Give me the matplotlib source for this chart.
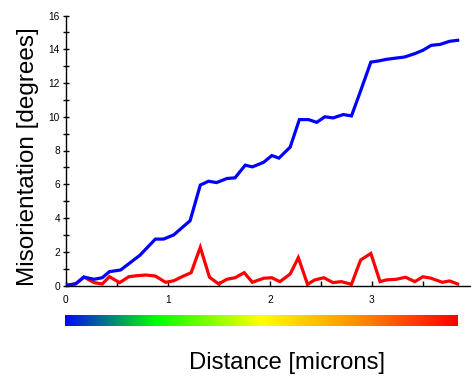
import numpy as np
import matplotlib
matplotlib.use("Agg")
import matplotlib.pyplot as plt
from matplotlib.colors import LinearSegmentedColormap
from matplotlib.ticker import MultipleLocator

plt.rcParams['font.family'] = ['Liberation Sans', 'DejaVu Sans']

# Data (distance in microns, misorientation in degrees)
blue_x = [0.00, 0.10, 0.18, 0.28, 0.36, 0.43, 0.54, 0.73, 0.88, 0.96, 1.06, 1.22,
          1.32, 1.40, 1.48, 1.58, 1.66, 1.76, 1.83, 1.94, 2.02, 2.09, 2.20, 2.29,
          2.38, 2.46, 2.54, 2.62, 2.72, 2.80, 2.88, 2.99, 3.06, 3.14, 3.24, 3.32,
          3.42, 3.50, 3.58, 3.67, 3.76, 3.84]
blue_y = [0.00, 0.10, 0.50, 0.37, 0.46, 0.82, 0.92, 1.80, 2.75, 2.75, 3.00, 3.84,
          5.95, 6.18, 6.10, 6.34, 6.38, 7.13, 7.03, 7.30, 7.70, 7.55, 8.20, 9.83,
          9.83, 9.67, 10.00, 9.93, 10.13, 10.05, 11.37, 13.24, 13.30, 13.40, 13.48, 13.54,
          13.74, 13.94, 14.23, 14.29, 14.47, 14.53]

red_x = [0.00, 0.10, 0.18, 0.28, 0.36, 0.43, 0.53, 0.62, 0.70, 0.79, 0.88, 0.98,
         1.06, 1.14, 1.23, 1.32, 1.41, 1.50, 1.58, 1.66, 1.75, 1.83, 1.94, 2.02,
         2.10, 2.20, 2.28, 2.37, 2.44, 2.53, 2.62, 2.70, 2.80, 2.89, 2.99, 3.08,
         3.14, 3.24, 3.33, 3.42, 3.50, 3.58, 3.69, 3.76, 3.84]
red_y = [0.00, 0.10, 0.50, 0.17, 0.09, 0.52, 0.17, 0.52, 0.58, 0.62, 0.56, 0.19,
         0.28, 0.52, 0.76, 2.26, 0.49, 0.09, 0.37, 0.46, 0.76, 0.19, 0.43, 0.46,
         0.23, 0.68, 1.65, 0.07, 0.33, 0.46, 0.17, 0.23, 0.07, 1.51, 1.90, 0.23,
         0.33, 0.37, 0.49, 0.23, 0.52, 0.43, 0.19, 0.27, 0.09]

x_ticks = [0, 1, 2, 3, 4]
y_ticks = [0, 2, 4, 6, 8, 10, 12, 14, 16]

W, H = 471, 377
fig = plt.figure(figsize=(W / 100, H / 100), dpi=100)
fig.patch.set_facecolor('white')

ax = fig.add_axes([65.5 / W, 1 - 285.5 / H, (474 - 65.5) / W, (285.5 - 15.5) / H])
ax.plot(red_x, red_y, color='#ff0000', lw=2.3, solid_joinstyle='miter', zorder=2)
ax.plot(blue_x, blue_y, color='#0000ff', lw=2.3, solid_joinstyle='miter', zorder=3)

ax.set_xlim(0, 4)
ax.set_ylim(0, 16)
ax.set_xticks(x_ticks)
ax.set_xticklabels([str(t) for t in x_ticks])
ax.set_yticks(y_ticks)
ax.set_yticklabels([str(t) for t in y_ticks])
ax.xaxis.set_minor_locator(MultipleLocator(0.5))
ax.yaxis.set_minor_locator(MultipleLocator(1))

for s in ['top', 'right']:
    ax.spines[s].set_visible(False)
for s in ['left', 'bottom']:
    ax.spines[s].set_linewidth(1.0)
    ax.spines[s].set_color('black')

ax.tick_params(axis='y', which='both', direction='inout', length=5, width=1,
               labelsize=7.3, pad=1.5)
ax.tick_params(axis='x', which='both', direction='in', length=3.5, width=1,
               labelsize=7.3, pad=7)

# Color scale bar
cmap = LinearSegmentedColormap.from_list(
    'scale', [(0.0, '#0008f8'), (0.23, '#00ff00'), (0.5, '#ffff00'),
              (0.75, '#ff8c00'), (1.0, '#ff0000')])
cax = fig.add_axes([65 / W, 1 - 325.7 / H, (457.7 - 65) / W, 11 / H])
cax.imshow(np.linspace(0, 1, 512)[None, :], aspect='auto', cmap=cmap,
           extent=[0, 1, 0, 1])
cax.axis('off')

fig.text(28.5 / W, 1 - 156.5 / H, 'Misorientation [degrees]', rotation=90,
         ha='center', va='center', fontsize=17.5)
fig.text(287.5 / W, 1 - 369.5 / H, 'Distance [microns]', ha='center',
         va='baseline', fontsize=17.2)

fig.savefig('out.png', dpi=100)
